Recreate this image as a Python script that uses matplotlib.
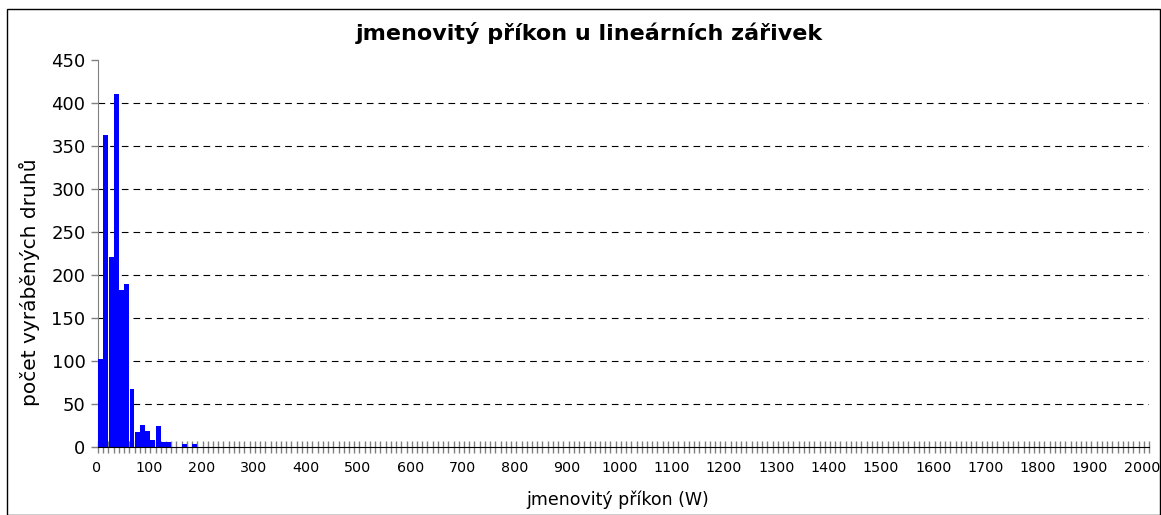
import matplotlib
matplotlib.use("Agg")
import matplotlib.pyplot as plt
from matplotlib.patches import Rectangle
from matplotlib.transforms import ScaledTranslation
import numpy as np

plt.rcParams['font.family'] = ['DejaVu Sans']

# categories: rated power in W (0, 10, ..., 2000)
power_w = list(range(0, 2001, 10))
# counts (nonzero bins)
nonzero_counts = {0: 102, 10: 363, 20: 221, 30: 411, 40: 183, 50: 190, 60: 67,
                  70: 17, 80: 26, 90: 19, 100: 8, 110: 25, 120: 6, 130: 6,
                  160: 3, 180: 3}
counts = [nonzero_counts.get(p, 0) for p in power_w]
tick_labels = [str(p) for p in range(0, 2001, 100)]

title = "jmenovitý příkon u lineárních zářivek"
xlabel = "jmenovitý příkon (W)"
ylabel = "počet vyráběných druhů"

W, H = 1161, 515
fig = plt.figure(figsize=(W / 100, H / 100), dpi=100)
ax = fig.add_axes([98 / W, 1 - 447 / H, (1149 - 98) / W, (447 - 60) / H])

x = np.arange(len(power_w))
ax.bar(x, counts, width=0.94, color='#0000FF', linewidth=0, zorder=3)

ax.set_xlim(-0.5, len(power_w) - 0.5)
ax.set_ylim(0, 450)
ax.set_yticks(np.arange(0, 451, 50))
for v in range(50, 401, 50):
    ax.axhline(v, color='black', linestyle=(0, (6, 4.5)), linewidth=0.8, zorder=1)

# x ticks: labels at every 10th category, marks at category boundaries
ax.set_xticks(x[::10])
ax.set_xticklabels(tick_labels)
ax.set_xticks(np.arange(-0.5, len(power_w), 1), minor=True)
ax.tick_params(axis='x', which='major', length=0, labelsize=10.3, pad=10)
ax.tick_params(axis='x', which='minor', direction='inout', length=9, width=1, color='#808080')
ax.tick_params(axis='y', which='major', direction='out', length=5, width=1, color='#808080',
               labelsize=13, pad=4)
shift = ScaledTranslation(-4 / 100, 0, fig.dpi_scale_trans)
for lbl in ax.get_xticklabels():
    lbl.set_transform(lbl.get_transform() + shift)

for s in ['top', 'right']:
    ax.spines[s].set_visible(False)
ax.spines['left'].set_color('#808080')
ax.spines['bottom'].set_color('black')
ax.spines['bottom'].set_zorder(4)

fig.text(618 / W, 1 - 500 / H, xlabel, ha='center', va='center', fontsize=12.5)
fig.text(30 / W, 1 - 282 / H, ylabel, ha='center', va='center', fontsize=14.5, rotation=90)
fig.text(589 / W, 1 - 33 / H, title, ha='center', va='center', fontsize=16, fontweight='bold')

fig.patches.append(Rectangle((7 / W, 0.5 / H), (W - 8) / W, (H - 9.5) / H, transform=fig.transFigure,
                             fill=False, edgecolor='black', linewidth=1))

fig.savefig('out.png', dpi=100)
